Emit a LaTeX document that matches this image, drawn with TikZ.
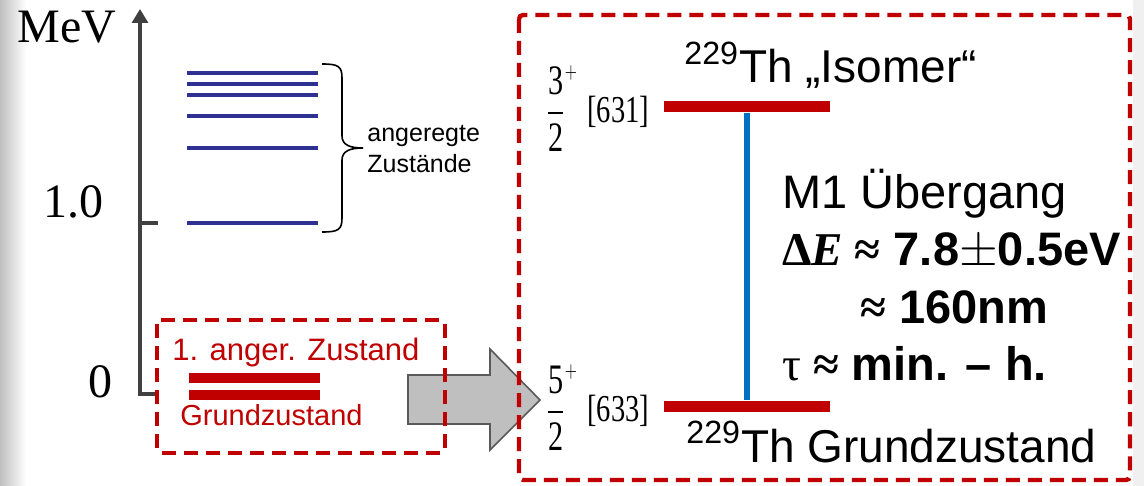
\documentclass[tikz,border=0pt]{standalone}
\usepackage{amsmath}
\usepackage{fontspec}
\setmainfont{Liberation Serif}
\setsansfont{Liberation Sans}
\usetikzlibrary{arrows.meta}
\definecolor{thred}{RGB}{192,0,0}
\definecolor{thblue}{RGB}{0,112,192}
\definecolor{lvlblue}{RGB}{46,49,146}
\definecolor{axisgray}{RGB}{64,64,64}

\begin{document}
\begin{tikzpicture}[
    x=0.5pt,y=-0.5pt,
    axis/.style={draw=axisgray,line width=1.6pt},
    lvl/.style={draw=lvlblue,line width=1.6pt},
    redbar/.style={draw=thred,line width=5pt},
    redbox/.style={draw=thred,line width=2.2pt,dash pattern=on 7pt off 4pt,rounded corners=2pt},
    thlevel/.style={fill=thred,minimum width=83pt,minimum height=5.5pt,inner sep=0pt},
    trans/.style={draw=thblue,line width=3pt},
    bigarrow/.style={fill=black!25,draw=black!65,line width=0.8pt},
    bracket/.style={draw=black,line width=0.8pt},
    axislbl/.style={font=\fontsize{24}{24}\selectfont,inner sep=0pt},
    small/.style={font=\sffamily\fontsize{12.5}{15.5}\selectfont,inner sep=0pt,align=left},
    redtxt/.style={text=thred,inner sep=0pt},
    txt/.style={font=\sffamily\fontsize{23.5}{23.5}\selectfont,inner sep=0pt},
    spin/.style={font=\fontsize{21}{21}\selectfont,inner sep=0pt},
    nilsson/.style={font=\fontsize{19}{19}\selectfont,inner sep=0pt}
]
\useasboundingbox (0,0) rectangle (1144,486);
\fill[white] (0,0) rectangle (1144,486);
\shade[left color=black!25,right color=white] (0,0) rectangle (26,486);
\fill[black!6] (1133,0) rectangle (1144,486);

% energy axis
\draw[axis,line join=miter,-{Triangle[length=7pt,width=8pt]}] (157,394) -- (140,394) -- (140,9);
\draw[axis] (140,223) -- (158,223);
\node[axislbl,anchor=base] (mev) at (67,43) {MeV};
\node[axislbl,anchor=base] (one) at (73,218) {1.0};
\node[axislbl,anchor=base] (zero) at (100,397) {0};

% excited states
\foreach \y in {73,84,95,116,148,223}
    \draw[lvl] (187,\y) -- (318,\y);
\draw[bracket] (322,64) .. controls (338,64) and (342,66) .. (342,78) -- (342,136)
    .. controls (342,145) and (350,148) .. (363,148)
    .. controls (350,148) and (342,151) .. (342,160) -- (342,218)
    .. controls (342,230) and (338,232) .. (322,232);
\node[small,anchor=west] (exc) at (367,149) {angeregte\\Zustände};

% ground doublet
\draw[redbar] (189,378) -- (320,378);
\draw[redbar] (189,395) -- (320,395);
\node[redtxt,anchor=base west,font=\sffamily\fontsize{15.5}{15.5}\selectfont] (first) at (172,360) {1. anger. Zustand};
\node[redtxt,anchor=base west,font=\sffamily\fontsize{14.5}{14.5}\selectfont] (gnd) at (180,425) {Grundzustand};

\draw[bigarrow] (408,375) -- (490,375) -- (490,349) -- (540,400) -- (490,450) -- (490,424) -- (408,424) -- cycle;
\draw[redbox] (157,320) rectangle (445,453);

% zoom on 229Th
\node[thlevel] (isomer) at (747,107) {};
\node[thlevel] (ground) at (747,406) {};
\draw[trans] (isomer.south) -- (ground.north);

\node[txt,anchor=base west,font=\sffamily\fontsize{23}{23}\selectfont] (isolbl) at (684,83) {\textsuperscript{229}Th „Isomer“};
\node[txt,anchor=base west,font=\sffamily\fontsize{23}{23}\selectfont] (gndlbl) at (686,462) {\textsuperscript{229}Th Grundzustand};

\node[spin,anchor=base west] (jiso) at (546,123) {\scalebox{0.72}[1]{$\genfrac{}{}{0.9pt}{0}{\text{3}}{\text{2}}^{\scriptscriptstyle +}$}};
\node[nilsson,anchor=base west] (niso) at (587,123) {\scalebox{0.75}[1]{[631]}};
\node[spin,anchor=base west] (jgnd) at (546,422) {\scalebox{0.72}[1]{$\genfrac{}{}{0.9pt}{0}{\text{5}}{\text{2}}^{\scriptscriptstyle +}$}};
\node[nilsson,anchor=base west] (ngnd) at (587,421) {\scalebox{0.75}[1]{[633]}};

\node[txt,anchor=base west] (m1) at (782,208) {M1 Übergang};
\node[txt,anchor=base west] (de) at (782,265) {{\rmfamily\bfseries Δ\textit{E} ≈} \textbf{7.8}$\pm$\textbf{0.5eV}};
\node[txt,anchor=base west] (lam) at (860,323) {{\rmfamily\bfseries ≈} \textbf{160nm}};
\node[txt,anchor=base west] (tau) at (782,380) {{\rmfamily τ \bfseries ≈} \textbf{min. – h.}};

\draw[redbox] (519,15) rectangle (1130,480);
\end{tikzpicture}
\end{document}
